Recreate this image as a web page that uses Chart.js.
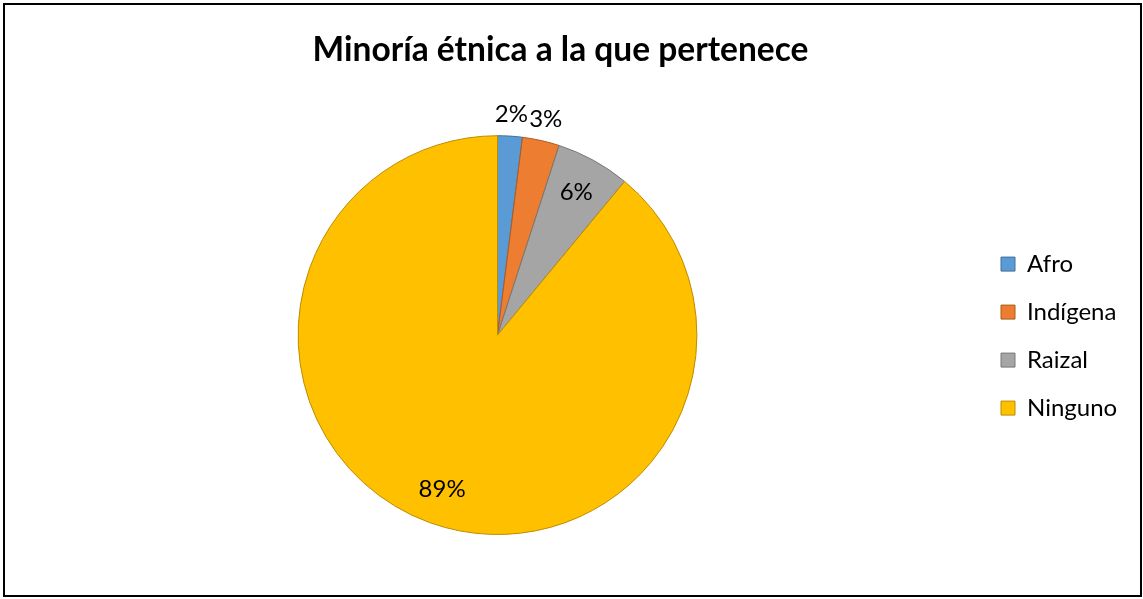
<!DOCTYPE html>
<html>
<head>
<meta charset="utf-8">
<script src="https://cdn.jsdelivr.net/npm/chart.js@4/dist/chart.umd.min.js"></script>
<style>
  html, body { margin:0; padding:0; background:#fff; }
  #wrap { width:1143px; height:599px; position:relative; }
</style>
</head>
<body>
<div id="wrap"><canvas id="pie" width="1143" height="599"></canvas></div>
<script>
const categories = ["Afro", "Indígena", "Raizal", "Ninguno"];
const values = [2, 3, 6, 89];
const fills = ["#5B9BD5", "#ED7D31", "#A5A5A5", "#FFC000"];
const edges = ["#41719C", "#AE5A21", "#787878", "#BC8C00"];

// outer frame of the chart object
const frame = {
  id: "frame",
  afterDraw(chart){
    const c = chart.ctx;
    c.save();
    c.strokeStyle = "#000";
    c.lineWidth = 2;
    c.strokeRect(4, 4, 1137, 592);
    c.restore();
  }
};

// percent labels: small slices outside, big ones inside
const pctLabels = {
  id: "pctLabels",
  afterDatasetsDraw(chart){
    const c = chart.ctx;
    const meta = chart.getDatasetMeta(0);
    const total = values.reduce((a,b)=>a+b,0);
    c.save();
    c.font = "24px Lato";
    c.fillStyle = "#000";
    c.textAlign = "center";
    c.textBaseline = "middle";
    meta.data.forEach((arc, i) => {
      const p = values[i] / total * 100;
      const mid = (arc.startAngle + arc.endAngle) / 2;
      const r = arc.outerRadius * (p < 5 ? 1.11 : 0.82);
      c.fillText(Math.round(p) + "%", arc.x + Math.cos(mid) * r, arc.y + Math.sin(mid) * r);
    });
    c.restore();
  }
};

new Chart(document.getElementById("pie"), {
  type: "pie",
  data: {
    labels: categories,
    datasets: [{ data: values, backgroundColor: fills, borderColor: edges, borderWidth: 1 }]
  },
  options: {
    responsive: false,
    animation: false,
    layout: { padding: { left: 0, right: 22, top: 20, bottom: 64 } },
    plugins: {
      tooltip: { enabled: false },
      title: {
        display: true,
        text: "Minoría étnica a la que pertenece",
        color: "#000",
        font: { family: "Lato", size: 33.5, weight: "bold" },
        padding: { top: 10, bottom: 65 }
      },
      legend: {
        position: "right",
        fullSize: false,
        maxWidth: 126,
        title: { display: true, text: "", font: { size: 20, lineHeight: 1 }, padding: 0 },
        labels: {
          color: "#000",
          font: { family: "Lato", size: 24, lineHeight: 1.75 },
          boxWidth: 14,
          boxHeight: 14,
          padding: 6,
          generateLabels(chart){
            // one-line arrays so the row height follows font.lineHeight
            return Chart.overrides.pie.plugins.legend.labels.generateLabels(chart)
              .map(it => Object.assign(it, { text: [it.text] }));
          }
        }
      }
    }
  },
  plugins: [frame, pctLabels]
});
</script>
</body>
</html>
